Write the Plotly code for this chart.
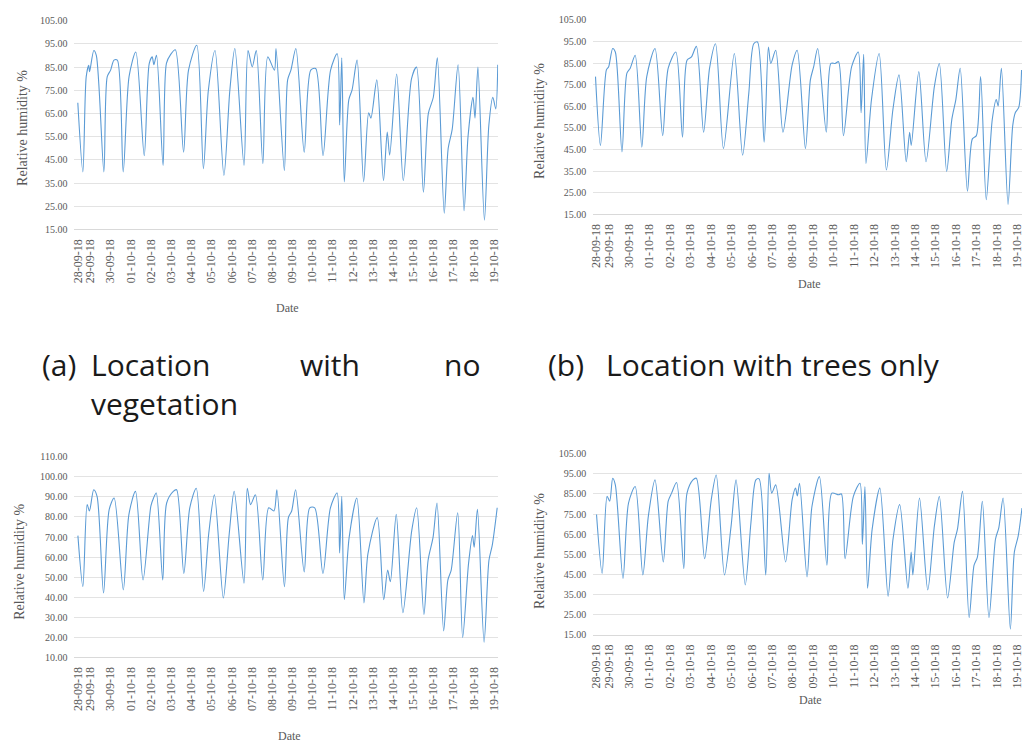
import plotly.graph_objects as go

W, H = 1025, 749

# ---------------- data (hours since 28-09-18 00:00, relative humidity %) -------------
tick_hours = [9, 24, 48, 72, 96, 120, 144, 168, 192, 216, 240, 264, 288, 312, 336, 360,
              384, 408, 432, 456, 480, 504]
tick_labels = ["28-09-18", "29-09-18", "30-09-18", "01-10-18", "02-10-18", "03-10-18",
               "04-10-18", "05-10-18", "06-10-18", "07-10-18", "08-10-18", "09-10-18",
               "10-10-18", "11-10-18", "12-10-18", "13-10-18", "14-10-18", "15-10-18",
               "16-10-18", "17-10-18", "18-10-18", "19-10-18"]

# (a) Location with no vegetation
a_hours = [9, 15, 19, 22, 23, 28, 31,
           40, 44, 48, 52, 56,
           63, 70, 78,
           88, 94, 97.5, 99.5, 102.6,
           110.4, 114.4, 119.5, 125,
           134.8, 140.7, 150.5,
           158.4, 164.3, 172.2,
           182.8, 189.9, 195.8,
           206.7, 211.5, 216.5, 221.3,
           229.1, 235, 242.9, 244.8,
           254.7, 258.6, 262.5, 268.4,
           278.3, 286.1, 292,
           300.7, 309.7, 317.6, 320.5, 323,
           326, 331.4, 335.3, 341.2,
           349, 355, 357.7, 364.7,
           372.6, 377.1, 380, 388.3,
           396.2, 406, 411.9,
           420.1, 426, 431.9, 436.7,
           444.9, 449.6, 454.3, 461.4,
           468.5, 473.2, 479.1, 481.5, 485,
           492.7, 498, 502.7, 506.2, 508.6]
a_vals = [69.6, 39.8, 80.9, 85.8, 83, 92.2, 90.1,
          39.8, 80.9, 83.7, 88, 88,
          39.8, 81, 91.5,
          46.8, 86.6, 89.4, 86, 90.1,
          42.6, 86.6, 90.5, 92.5,
          48.3, 83.7, 94.4,
          41.2, 75, 92.2,
          38.3, 75.2, 93,
          42.6, 92.2, 85.1, 92.2,
          43.3, 89.4, 83.7, 93,
          40.4, 79.5, 83.7, 93,
          48.3, 83.7, 84.4,
          46.8, 83.7, 90.8, 60, 89,
          35.5, 71, 75.2, 88,
          35.5, 65.3, 63, 79.5,
          36, 57, 47, 82,
          36, 80, 85,
          31, 65, 72, 89,
          22, 50, 58, 86,
          23, 55, 72, 63, 85,
          19, 60, 72, 67, 86]

# (b) Location with trees only
b_hours = [8.5, 14.3, 21.3, 24, 28.7, 31.8,
           39.6, 45.4, 49.3, 55.1,
           62.9, 68.7, 78.4,
           87.4, 93.9, 102.9,
           110.7, 116.0, 121.2, 127,
           135.5, 142.5, 149.5,
           158.8, 171.6,
           181.3, 188.6, 194.4, 198.8,
           206.6, 211.6, 214.4, 220.2,
           228.7, 239.5, 245.4,
           255.1, 260.9, 264.8, 269.5,
           279.6, 285, 290.1, 294,
           299.8, 309.4, 317.2, 320.5, 323.5,
           326.2, 332.7, 341.7,
           350.2, 357.9, 365,
           373.5, 377.5, 379.4, 388.3,
           396.8, 406.6, 412.4,
           421, 427.1, 431.8, 436.9,
           445.4, 451.2, 455.9, 460.9,
           467.5, 474.6, 479.3, 481.5, 485.3,
           493.1, 498.6, 501.7, 505.6, 509]
b_vals = [78.7, 46.9, 81.8, 83.3, 91.7, 90.1,
          43.9, 80.3, 82.6, 88.6,
          46.1, 78.7, 91.7,
          51.4, 82.6, 90.1,
          50.7, 86.3, 87.8, 92.7,
          53, 82.6, 93.9,
          45.4, 89.4,
          42.3, 71.2, 93.9, 94.7,
          48.4, 92.4, 84.8, 90.9,
          53, 84.1, 90.9,
          45.4, 77.2, 83.3, 91.7,
          53, 84.8, 84.8, 85.6,
          51.4, 83.3, 90.1, 62, 89,
          38.5, 68.1, 89.4,
          35.5, 63.6, 79.5,
          39.3, 53, 46.9, 81,
          39.3, 74.2, 84.8,
          34.8, 59, 68.1, 82.6,
          25.7, 49.9, 51.4, 78.7,
          21.8, 59, 68.1, 65.1, 82.6,
          19.6, 56, 62.1, 64.4, 81.8]

# (c)
c_hours = [9.1, 15, 20.1, 22.8, 27.9, 31.9,
           39.6, 46.3, 52.2,
           63.1, 69.8, 77.6,
           86.6, 95.9, 99.1, 102.3,
           110, 114.7, 122.6, 126.5,
           135.1, 142.2, 149.9,
           158.6, 164.8, 171.5,
           182.1, 189.1, 195,
           206.7, 210.6, 214.5, 220.3,
           229, 236.1, 242.3, 245.8,
           254.8, 259.5, 263.4, 268.1,
           278.3, 284.9, 290.8,
           300.6, 309.5, 317.4, 320.5, 323,
           326, 331.8, 340.9,
           349.4, 354.1, 365.2,
           372.9, 377.6, 380.8, 387.8,
           395.7, 406.2, 412.1,
           420.7, 425.7, 431.6, 436.3,
           444.2, 449.2, 453.2, 460.9,
           466.8, 473.8, 478.5, 480.5, 484.4,
           492.3, 498.1, 502, 507.9]
c_vals = [70.7, 45.2, 86.2, 83, 93.6, 90.3,
          42, 83.7, 89.5,
          43.6, 81.3, 92.8,
          48.5, 85.4, 89.5, 92,
          48.5, 87, 92.8, 93.6,
          51.8, 84.6, 94.4,
          42.8, 72, 91.1,
          39.5, 71.5, 92.8,
          46.9, 94.4, 86.2, 91.1,
          48.5, 84.6, 83, 93.6,
          45.2, 79.7, 83, 93.6,
          52.6, 84.6, 84.6,
          51.8, 84.6, 92, 62, 90.3,
          38.7, 69.8, 89.5,
          37.1, 61.6, 79.7,
          38.7, 53.5, 47.7, 81.3,
          32.2, 73.1, 84.6,
          31.3, 58.4, 69.8, 87,
          23.1, 48.5, 53.5, 82.1,
          19.8, 56.7, 70.7, 64.9, 83.8,
          17.4, 58.4, 65.8, 84.6]

# (d)
d_hours = [9.7, 16.3, 22.1, 25.2, 28.7, 31.8,
           40.8, 47.3, 55.1,
           64.1, 70.6, 78.4,
           88.1, 93.9, 97.9, 103.7,
           112.2, 116, 123, 127,
           136.7, 144.5, 150.3,
           160, 167.8, 173.6,
           184.4, 191.1, 196.9, 200.7,
           208.5, 212.4, 215.5, 220.2,
           231.8, 239.5, 243.5, 245.6, 248.2,
           257, 262.8, 271.5,
           280.3, 286.1, 294, 297.4,
           301.7, 311.4, 319.2, 322, 325,
           328.1, 333.5, 342.5,
           352.2, 358, 365.8,
           375.5, 379.3, 381.3, 389.1,
           398.8, 406.6, 412.4,
           422.1, 429.9, 433.7, 439.6,
           447.4, 453.2, 457.1, 462.9,
           470.7, 478.4, 482.3, 487.3,
           495.8, 500.5, 505, 509.5]
d_vals = [74.8, 45.5, 83.8, 81.4, 92.8, 89.5,
          43, 80.5, 88.7,
          44.7, 74, 92,
          51.2, 81.4, 85.4, 90.7,
          47.9, 85.4, 92, 92.8,
          52.8, 82.2, 94.4,
          44.7, 69.1, 92,
          39.8, 70.8, 92, 92.5,
          44.7, 95.2, 85.4, 89.5,
          51.2, 82.2, 87.9, 84, 90.3,
          43.8, 78.9, 93.6,
          49.6, 85.4, 84.6, 85,
          52.8, 83.8, 90.3, 60, 88.7,
          38.1, 67.5, 87.9,
          34.1, 62.6, 79.7,
          38.1, 56.1, 44.7, 83,
          37.3, 69.1, 83.8,
          33.3, 61, 67.5, 86.3,
          23.5, 49.6, 53.6, 81.4,
          23.5, 62.6, 68.3, 83,
          17.8, 56.1, 64, 78]

for hh, vv in [(a_hours, a_vals), (b_hours, b_vals), (c_hours, c_vals), (d_hours, d_vals)]:
    assert len(hh) == len(vv), (len(hh), len(vv))

# ---------------- layout helpers -------------
def px_x(p):
    return p / W

def px_y(p):
    return 1 - p / H

LINE = dict(color="#5b9bd5", width=1.1, shape="spline", smoothing=0.8)
SERIF = "Liberation Serif, Times New Roman, serif"
GREY = "#595959"

panels = [
    # axis suffix, hours, vals, x-domain px, y px (top,bottom), yrange, xrange
    ("", a_hours, a_vals, (70, 497), (15, 227), (15, 105), (5, 509)),
    ("2", b_hours, b_vals, (593, 1025), (14, 211.7), (15, 105), (6, 509.5)),
    ("3", c_hours, c_vals, (70, 497), (458.3, 661.7), (10, 110), (5, 509)),
    ("4", d_hours, d_vals, (593, 1025), (455, 639), (15, 105), (6, 509.5)),
]

fig = go.Figure()
layout = dict(width=W, height=H, margin=dict(l=0, r=0, t=0, b=0),
              paper_bgcolor="white", plot_bgcolor="white", showlegend=False)

for name, hh, vv, xd, yd, yr, xr in panels:
    fig.add_trace(go.Scatter(x=hh, y=vv, mode="lines", line=LINE,
                             xaxis="x" + name, yaxis="y" + name, hoverinfo="skip"))
    layout["xaxis" + name] = dict(
        domain=[px_x(xd[0]), px_x(xd[1])], range=list(xr), anchor="y" + name,
        tickmode="array", tickvals=tick_hours, ticktext=tick_labels, tickangle=-90,
        tickfont=dict(family=SERIF, size=12, color=GREY), showgrid=False, zeroline=False,
        showline=True, linecolor="#d9d9d9", linewidth=1, ticks="outside", ticklen=4,
        tickcolor="white", ticklabeloverflow="allow")
    layout["yaxis" + name] = dict(
        domain=[px_y(yd[1]), px_y(yd[0])], range=list(yr), anchor="x" + name,
        tick0=yr[0], dtick=10, tickformat=".2f",
        tickfont=dict(family=SERIF, size=10, color=GREY), showgrid=True,
        gridcolor="#e3e3e3", gridwidth=1, zeroline=False, showline=False,
        ticks="outside", ticklen=4, tickcolor="white")

fig.update_layout(**layout)

ann = []
# y-axis titles
for x, y in [(17, 124), (538, 117), (15, 565), (538, 554)]:
    ann.append(dict(text="Relative humidity %", x=px_x(x), y=px_y(y), xref="paper",
                    yref="paper", xanchor="center", yanchor="middle", showarrow=False,
                    textangle=-90, font=dict(family=SERIF, size=14, color=GREY)))
# x-axis titles
for x, y in [(285, 307), (811, 283), (287, 742), (812, 705)]:
    ann.append(dict(text="Date", x=px_x(x), y=px_y(y), xref="paper", yref="paper",
                    xanchor="center", yanchor="middle", showarrow=False,
                    font=dict(family=SERIF, size=12, color=GREY)))
# captions
CAP = dict(family="Open Sans, Lato, sans-serif", size=30, color="#1a1a1a")
for text, x, y in [("(a)", 35, 364), ("Location", 85, 364), ("with", 295, 364),
                   ("no", 440, 364), ("vegetation", 85, 404),
                   ("(b)", 545, 364), ("Location with trees only", 604, 364)]:
    ann.append(dict(text=text, x=px_x(x), y=px_y(y), xref="paper", yref="paper",
                    xanchor="left", yanchor="middle", showarrow=False, font=CAP))
fig.update_layout(annotations=ann)

fig.write_html("out.html", config={"displayModeBar": False},
               post_script="document.body.style.margin='0';"
                           "document.body.style.overflow='hidden';")
